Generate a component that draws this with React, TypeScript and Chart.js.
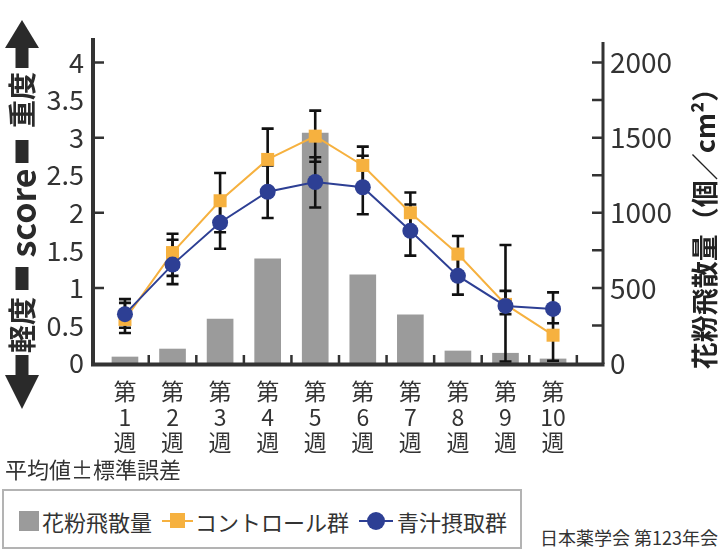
import React, { useEffect, useRef } from 'react';
import { Chart, registerables } from 'chart.js';

Chart.register(...registerables);

// ---- data ----
const weeks = ['1', '2', '3', '4', '5', '6', '7', '8', '9', '10'];
const weekLabels = weeks.map((w) => ['第', w, '週']);
const pollenCounts = [40, 93, 293, 693, 1530, 587, 320, 80, 65, 27];
const controlScore = [0.58, 1.47, 2.16, 2.71, 3.02, 2.63, 2.0, 1.45, 0.78, 0.37];
const controlErrPlus = [0.22, 0.25, 0.37, 0.41, 0.34, 0.25, 0.27, 0.24, 0.18, 0.34];
const controlErrMinus = [0.18, 0.31, 0.42, 0.41, 0.34, 0.25, 0.27, 0.24, 0.13, 0.34];
const aojiruScore = [0.65, 1.31, 1.87, 2.28, 2.41, 2.34, 1.76, 1.16, 0.76, 0.72];
const aojiruErrPlus = [0.2, 0.33, 0.35, 0.35, 0.33, 0.42, 0.35, 0.25, 0.81, 0.22];
const aojiruErrMinus = [0.18, 0.26, 0.35, 0.35, 0.34, 0.36, 0.33, 0.25, 0.74, 0.19];
const scoreTicks = [0, 0.5, 1, 1.5, 2, 2.5, 3, 3.5, 4];
const scoreTickMarks = [1, 2, 3, 4];
const pollenTicks = [0, 500, 1000, 1500, 2000];
const pollenTickMarks = [250, 500, 750, 1000, 1250, 1500, 1750, 2000];

const seriesNames = ['花粉飛散量', 'コントロール群', '青汁摂取群'];
const leftTitle = { high: '重度', mid: 'score', low: '軽度' };
const rightTitle = '花粉飛散量（個／cm²）';
const noteText = '平均値±標準誤差';
const sourceText = '日本薬学会 第123年会';

const FONT = "'Noto Sans CJK JP', 'Noto Sans', sans-serif";
const GRAY = '#9b9b9b';
const ORANGE = '#F6B13F';
const BLUE = '#2D3F94';
const AXIS = '#333333';

const decorPlugin = {
  id: 'decor',
  afterDatasetDraw(chart: any, args: any) {
    if (args.index !== 0) return;
    const ctx = chart.ctx;
    const xs = chart.scales.x;
    const ys = chart.scales.y;
    ctx.save();
    ctx.strokeStyle = '#111';
    ctx.lineWidth = 2.6;
    const draw = (vals: number[], plus: number[], minus: number[]) => {
      vals.forEach((v, i) => {
        const px = xs.getPixelForValue(i + 1);
        const top = ys.getPixelForValue(v + plus[i]);
        const bot = ys.getPixelForValue(Math.max(0, v - minus[i]));
        ctx.beginPath();
        ctx.moveTo(px, top);
        ctx.lineTo(px, bot);
        ctx.moveTo(px - 6, top);
        ctx.lineTo(px + 6, top);
        ctx.moveTo(px - 6, bot);
        ctx.lineTo(px + 6, bot);
        ctx.stroke();
      });
    };
    draw(controlScore, controlErrPlus, controlErrMinus);
    draw(aojiruScore, aojiruErrPlus, aojiruErrMinus);
    ctx.restore();
  },
  afterDraw(chart: any) {
    const ctx = chart.ctx;
    const ca = chart.chartArea;
    const xs = chart.scales.x;
    const ys = chart.scales.y;
    const y2 = chart.scales.y2;
    ctx.save();
    ctx.strokeStyle = AXIS;
    ctx.lineCap = 'butt';
    // left axis
    ctx.lineWidth = 4;
    ctx.beginPath();
    ctx.moveTo(ca.left - 1, ca.top - 2);
    ctx.lineTo(ca.left - 1, ca.bottom + 3);
    ctx.stroke();
    // bottom axis
    ctx.beginPath();
    ctx.moveTo(ca.left - 3, ca.bottom + 1.5);
    ctx.lineTo(ca.right + 1.5, ca.bottom + 1.5);
    ctx.stroke();
    // right axis
    ctx.lineWidth = 3;
    ctx.beginPath();
    ctx.moveTo(ca.right, ca.top + 2);
    ctx.lineTo(ca.right, ca.bottom + 1);
    ctx.stroke();
    // tick marks
    ctx.lineWidth = 2.5;
    ctx.beginPath();
    scoreTickMarks.forEach((v) => {
      const py = ys.getPixelForValue(v);
      ctx.moveTo(ca.left, py);
      ctx.lineTo(ca.left + 10, py);
    });
    pollenTickMarks.forEach((v) => {
      const py = y2.getPixelForValue(v);
      ctx.moveTo(ca.right - 11, py);
      ctx.lineTo(ca.right, py);
    });
    weeks.forEach((_, i) => {
      const px = xs.getPixelForValue(i + 1.5);
      ctx.moveTo(px, ca.bottom);
      ctx.lineTo(px, ca.bottom - 8);
    });
    ctx.stroke();

    // left title with arrows
    const cx = 22;
    ctx.fillStyle = '#2a2a2a';
    ctx.beginPath();
    ctx.moveTo(cx, 20);
    ctx.lineTo(cx + 17, 48);
    ctx.lineTo(cx - 17, 48);
    ctx.closePath();
    ctx.fill();
    ctx.fillRect(cx - 6.5, 47, 13, 21);
    ctx.fillRect(cx - 6.5, 140, 13, 23);
    ctx.fillRect(cx - 6.5, 267, 13, 23);
    ctx.fillRect(cx - 6.5, 355, 13, 21);
    ctx.beginPath();
    ctx.moveTo(cx, 409);
    ctx.lineTo(cx + 17, 375);
    ctx.lineTo(cx - 17, 375);
    ctx.closePath();
    ctx.fill();
    const rot = (text: string, x: number, y: number, font: string) => {
      ctx.save();
      ctx.translate(x, y);
      ctx.rotate(-Math.PI / 2);
      ctx.font = font;
      ctx.textAlign = 'center';
      ctx.textBaseline = 'middle';
      ctx.fillText(text, 0, 0);
      ctx.restore();
    };
    rot(leftTitle.high, cx, 100, `bold 28px ${FONT}`);
    rot(leftTitle.mid, cx + 1, 213, `bold 34px ${FONT}`);
    rot(leftTitle.low, cx, 325, `bold 28px ${FONT}`);
    ctx.fillStyle = '#222';
    rot(rightTitle, 705, 222, `bold 27px ${FONT}`);
    ctx.restore();
  },
};

export default function App() {
  const ref = useRef<HTMLCanvasElement | null>(null);
  useEffect(() => {
    if (!ref.current) return;
    const chart = new Chart(ref.current, {
      type: 'bar',
      data: {
        datasets: [
          {
            type: 'bar',
            label: seriesNames[0],
            data: pollenCounts.map((v, i) => ({ x: i + 1, y: v })),
            yAxisID: 'y2',
            backgroundColor: GRAY,
            barThickness: 26,
            order: 3,
          },
          {
            type: 'line',
            label: seriesNames[1],
            data: controlScore.map((v, i) => ({ x: i + 1, y: v })),
            yAxisID: 'y',
            borderColor: ORANGE,
            backgroundColor: ORANGE,
            borderWidth: 2,
            pointStyle: 'rect',
            pointRadius: 9.2,
            pointBorderWidth: 0,
            tension: 0,
            order: 2,
          },
          {
            type: 'line',
            label: seriesNames[2],
            data: aojiruScore.map((v, i) => ({ x: i + 1, y: v })),
            yAxisID: 'y',
            borderColor: BLUE,
            backgroundColor: BLUE,
            borderWidth: 2,
            pointStyle: 'circle',
            pointRadius: 8,
            pointBorderWidth: 0,
            tension: 0,
            order: 1,
          },
        ] as any,
      },
      options: {
        responsive: false,
        animation: false,
        devicePixelRatio: 1,
        layout: { padding: { top: 40, left: 0, right: 0, bottom: 0 } },
        plugins: { legend: { display: false }, tooltip: { enabled: false } },
        scales: {
          x: {
            type: 'linear',
            min: 0.349,
            max: 11.05,
            offset: false,
            grid: { display: false, drawTicks: false },
            border: { display: false },
            afterBuildTicks: (s: any) => {
              s.ticks = weeks.map((_, i) => ({ value: i + 1 }));
            },
            afterFit: (s: any) => {
              s.height = 107;
            },
            ticks: {
              autoSkip: false,
              maxRotation: 0,
              padding: 16,
              color: AXIS,
              font: { family: FONT, size: 23, lineHeight: 1.1 },
              callback: (v: any) => weekLabels[Math.round(Number(v)) - 1] ?? '',
            },
          },
          y: {
            type: 'linear',
            position: 'left',
            min: 0,
            max: 4.3,
            grid: { display: false, drawTicks: false },
            border: { display: false },
            afterBuildTicks: (s: any) => {
              s.ticks = scoreTicks.map((v) => ({ value: v }));
            },
            afterFit: (s: any) => {
              s.width = 94;
            },
            ticks: {
              padding: 10,
              color: AXIS,
              font: { family: FONT, size: 27 },
              callback: (v: any) => String(v),
            },
          },
          y2: {
            type: 'linear',
            position: 'right',
            min: 0,
            max: 2150,
            grid: { display: false, drawTicks: false },
            border: { display: false },
            afterBuildTicks: (s: any) => {
              s.ticks = pollenTicks.map((v) => ({ value: v }));
            },
            afterFit: (s: any) => {
              s.width = 117;
            },
            ticks: {
              padding: 7,
              color: AXIS,
              font: { family: FONT, size: 28 },
              callback: (v: any) => String(v),
            },
          },
        },
      } as any,
      plugins: [decorPlugin],
    });
    return () => chart.destroy();
  }, []);

  const txt: React.CSSProperties = {
    position: 'absolute',
    fontFamily: FONT,
    color: '#333',
    lineHeight: 1,
    whiteSpace: 'nowrap',
  };

  return (
    <div style={{ position: 'absolute', left: 0, top: 0, width: 720, height: 550, overflow: 'hidden', background: '#fff' }}>
      <canvas ref={ref} width={720} height={470} style={{ position: 'absolute', left: 0, top: 0, width: 720, height: 470 }} />
      <div style={{ ...txt, left: 5, top: 457, fontSize: 22 }}>{noteText}</div>
      <div
        style={{
          position: 'absolute',
          left: 2,
          top: 489,
          width: 516,
          height: 56,
          border: '2px solid #b3b3b3',
        }}
      />
      <div style={{ position: 'absolute', left: 19, top: 511, width: 20, height: 20, background: GRAY }} />
      <div style={{ ...txt, left: 42, top: 510, fontSize: 22 }}>{seriesNames[0]}</div>
      <div style={{ position: 'absolute', left: 162, top: 520, width: 31, height: 2, background: ORANGE }} />
      <div style={{ position: 'absolute', left: 170, top: 513, width: 15, height: 15, background: ORANGE }} />
      <div style={{ ...txt, left: 195, top: 510, fontSize: 22 }}>{seriesNames[1]}</div>
      <div style={{ position: 'absolute', left: 359, top: 520, width: 34, height: 2, background: BLUE }} />
      <div style={{ position: 'absolute', left: 367, top: 512, width: 18, height: 18, borderRadius: '50%', background: BLUE }} />
      <div style={{ ...txt, left: 397, top: 510, fontSize: 22 }}>{seriesNames[2]}</div>
      <div style={{ ...txt, right: 2, top: 528, fontSize: 18 }}>{sourceText}</div>
    </div>
  );
}
